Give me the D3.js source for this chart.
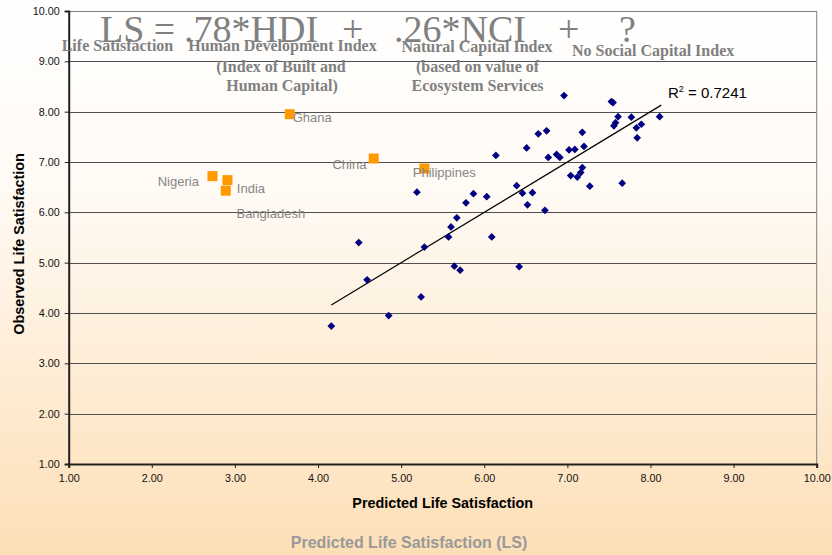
<!DOCTYPE html>
<html>
<head>
<meta charset="utf-8">
<script src="https://cdn.jsdelivr.net/npm/d3@7"></script>
<style>
    body { margin: 0; padding: 0; }
    svg { display: block; font-family: Arial, "Liberation Sans", sans-serif; }
</style>
</head>
<body>
<svg width="832" height="555"></svg>
<script>
// observed vs predicted life satisfaction, one value per country
var predictedLS = [6.96, 7.53, 7.55, 7.61, 7.77, 8.11, 7.58, 7.56, 7.83, 7.89,
    7.84, 6.75, 6.65, 7.18, 6.51, 6.14, 6.77, 6.87, 6.91, 7.02,
    7.09, 7.20, 7.18, 7.16, 7.04, 7.12, 7.27, 7.66, 6.39, 6.46,
    6.58, 6.52, 6.73, 5.19, 5.87, 6.03, 5.78, 5.67, 5.60, 5.57,
    6.09, 5.28, 4.49, 5.64, 5.71, 6.42, 4.59, 5.24, 4.85, 4.16];
var observedLS = [8.32, 8.20, 8.18, 7.90, 7.89, 7.90, 7.78, 7.72, 7.68, 7.75,
    7.48, 7.62, 7.56, 7.59, 7.28, 7.13, 7.09, 7.15, 7.09, 7.24,
    7.25, 7.31, 6.89, 6.79, 6.73, 6.70, 6.52, 6.58, 6.53, 6.38,
    6.39, 6.15, 6.04, 6.40, 6.37, 6.31, 6.19, 5.89, 5.71, 5.51,
    5.51, 5.31, 5.40, 4.93, 4.85, 4.92, 4.66, 4.32, 3.95, 3.74];

// highlighted countries
var countryNames = ['Ghana', 'China', 'Philippines', 'Nigeria', 'India', 'Bangladesh'];
var countryPredicted = [3.66, 4.67, 5.28, 2.73, 2.91, 2.89];
var countryObserved = [7.95, 7.07, 6.87, 6.72, 6.64, 6.43];

// linear trend line end points
var trendX = [4.16, 8.13];
var trendY = [4.16, 8.13];
var rSquared = '0.7241';

var axisTicks = [1, 2, 3, 4, 5, 6, 7, 8, 9, 10];

var svg = d3.select('svg');
var width = 832;
var height = 555;
var margin = {top: 11, right: 15.3, bottom: 91, left: 68.7};
var plotW = width - margin.left - margin.right;
var plotH = height - margin.top - margin.bottom;

// background gradient
var grad = svg.append('defs').append('linearGradient')
    .attr('id', 'bg')
    .attr('x1', 0).attr('y1', 0).attr('x2', 0).attr('y2', 1);
grad.append('stop').attr('offset', '0%').attr('stop-color', '#ffffff');
grad.append('stop').attr('offset', '35%').attr('stop-color', '#fffaf4');
grad.append('stop').attr('offset', '100%').attr('stop-color', '#fddfb6');

svg.append('rect')
    .attr('width', width)
    .attr('height', height)
    .attr('fill', 'url(#bg)');

var g = svg.append('g')
    .attr('transform', 'translate(' + margin.left + ',' + margin.top + ')');

var xScale = d3.scaleLinear()
    .domain([1, 10])
    .range([0, plotW]);

var yScale = d3.scaleLinear()
    .domain([1, 10])
    .range([plotH, 0]);

var fmt = d3.format('.2f');

// gridlines
g.append('g')
    .selectAll('line')
    .data(axisTicks.slice(1, 9))
    .enter()
    .append('line')
    .attr('x1', 0)
    .attr('x2', plotW)
    .attr('y1', function (d) { return Math.round(yScale(d)) + 0.5; })
    .attr('y2', function (d) { return Math.round(yScale(d)) + 0.5; })
    .attr('stroke', '#505050')
    .attr('stroke-width', 1);

// top and right border
g.append('line')
    .attr('x1', 0).attr('x2', plotW)
    .attr('y1', 0.5).attr('y2', 0.5)
    .attr('stroke', '#808080');
g.append('line')
    .attr('x1', plotW).attr('x2', plotW)
    .attr('y1', 0).attr('y2', plotH)
    .attr('stroke', '#808080');

// axes
var xAxis = g.append('g')
    .attr('class', 'axis')
    .attr('transform', 'translate(0,' + plotH + ')')
    .call(d3.axisBottom(xScale).tickValues(axisTicks).tickFormat(fmt).tickSize(4).tickPadding(6));

var yAxis = g.append('g')
    .attr('class', 'axis')
    .call(d3.axisLeft(yScale).tickValues(axisTicks).tickFormat(fmt).tickSize(4).tickPadding(5));

g.selectAll('.axis path')
    .attr('stroke', '#222')
    .attr('stroke-width', 2);
g.selectAll('.axis line')
    .attr('stroke', '#222')
    .attr('stroke-width', 1);
g.selectAll('.axis text')
    .attr('font-family', 'Arial, "Liberation Sans", sans-serif')
    .attr('font-size', '10.8px')
    .attr('fill', '#111');

// trend line
var line = d3.line()
    .x(function (d) { return xScale(d[0]); })
    .y(function (d) { return yScale(d[1]); });

g.append('path')
    .datum(d3.zip(trendX, trendY))
    .attr('d', line)
    .attr('fill', 'none')
    .attr('stroke', '#000')
    .attr('stroke-width', 1.2);

// blue diamonds
var diamond = d3.symbol().type(d3.symbolSquare).size(30);
g.append('g')
    .selectAll('path')
    .data(d3.zip(predictedLS, observedLS))
    .enter()
    .append('path')
    .attr('d', diamond)
    .attr('transform', function (d) {
        return 'translate(' + xScale(d[0]) + ',' + yScale(d[1]) + ') rotate(45)';
    })
    .attr('fill', '#000080');

// orange squares for highlighted countries
var countries = countryNames.map(function (n, i) {
    return {name: n, x: countryPredicted[i], y: countryObserved[i]};
});

g.append('g')
    .selectAll('rect')
    .data(countries)
    .enter()
    .append('rect')
    .attr('x', function (d) { return xScale(d.x) - 5; })
    .attr('y', function (d) { return yScale(d.y) - 5; })
    .attr('width', 10)
    .attr('height', 10)
    .attr('fill', '#ff9900');

// label placement relative to each square
var labelPos = {
    'Ghana': {dx: 3, dy: 7.4, anchor: 'start'},
    'China': {dx: -7.3, dy: 11, anchor: 'end'},
    'Philippines': {dx: -11.6, dy: 8.4, anchor: 'start'},
    'Nigeria': {dx: -13.6, dy: 10, anchor: 'end'},
    'India': {dx: 9.4, dy: 13, anchor: 'start'},
    'Bangladesh': {dx: 10.7, dy: 27, anchor: 'start'}
};

g.append('g')
    .selectAll('text')
    .data(countries)
    .enter()
    .append('text')
    .attr('x', function (d) { return xScale(d.x) + labelPos[d.name].dx; })
    .attr('y', function (d) { return yScale(d.y) + labelPos[d.name].dy; })
    .attr('text-anchor', function (d) { return labelPos[d.name].anchor; })
    .attr('font-size', '13px')
    .attr('fill', '#868686')
    .text(function (d) { return d.name; });

// R squared label
var r2 = svg.append('text')
    .attr('x', 668)
    .attr('y', 98)
    .attr('font-size', '15px')
    .attr('fill', '#000');
r2.append('tspan').text('R');
r2.append('tspan').attr('font-size', '9px').attr('dy', -6).text('2');
r2.append('tspan').attr('dy', 6).text(' = ' + rSquared);

// axis titles
svg.append('text')
    .attr('x', margin.left + plotW / 2)
    .attr('y', 507.7)
    .attr('text-anchor', 'middle')
    .attr('font-weight', 'bold')
    .attr('font-size', '14.4px')
    .attr('fill', '#000')
    .text('Predicted Life Satisfaction');

svg.append('text')
    .attr('transform', 'translate(24,244) rotate(-90)')
    .attr('text-anchor', 'middle')
    .attr('font-weight', 'bold')
    .attr('font-size', '14.4px')
    .attr('fill', '#000')
    .text('Observed Life Satisfaction');

svg.append('text')
    .attr('x', 409)
    .attr('y', 548)
    .attr('text-anchor', 'middle')
    .attr('font-weight', 'bold')
    .attr('font-size', '16px')
    .attr('fill', '#999')
    .text('Predicted Life Satisfaction (LS)');

// equation overlay
var serif = '"Liberation Serif", "Times New Roman", serif';
var eqParts = [
    {t: 'LS =', x: 100},
    {t: '.78*HDI', x: 184},
    {t: '+', x: 342},
    {t: '.26*NCI', x: 394},
    {t: '+', x: 558},
    {t: '?', x: 619}
];
svg.append('g')
    .selectAll('text')
    .data(eqParts)
    .enter()
    .append('text')
    .attr('x', function (d) { return d.x; })
    .attr('y', 41.5)
    .attr('font-family', serif)
    .attr('font-size', '38px')
    .attr('fill', '#808080')
    .text(function (d) { return d.t; });

var captions = [
    {t: 'Life Satisfaction', x: 61.7, y: 51, anchor: 'start'},
    {t: 'Human Development Index', x: 282.5, y: 51, anchor: 'middle'},
    {t: '(Index of Built and', x: 281, y: 71.7, anchor: 'middle'},
    {t: 'Human Capital)', x: 282, y: 91, anchor: 'middle'},
    {t: 'Natural Capital Index', x: 477, y: 51.7, anchor: 'middle'},
    {t: '(based on value of', x: 477.5, y: 72, anchor: 'middle'},
    {t: 'Ecosystem Services', x: 477.5, y: 91, anchor: 'middle'},
    {t: 'No Social Capital Index', x: 572, y: 55.7, anchor: 'start'}
];
svg.append('g')
    .selectAll('text')
    .data(captions)
    .enter()
    .append('text')
    .attr('x', function (d) { return d.x; })
    .attr('y', function (d) { return d.y; })
    .attr('text-anchor', function (d) { return d.anchor; })
    .attr('font-family', serif)
    .attr('font-weight', 'bold')
    .attr('font-size', '16px')
    .attr('fill', '#808080')
    .text(function (d) { return d.t; });
</script>
</body>
</html>
